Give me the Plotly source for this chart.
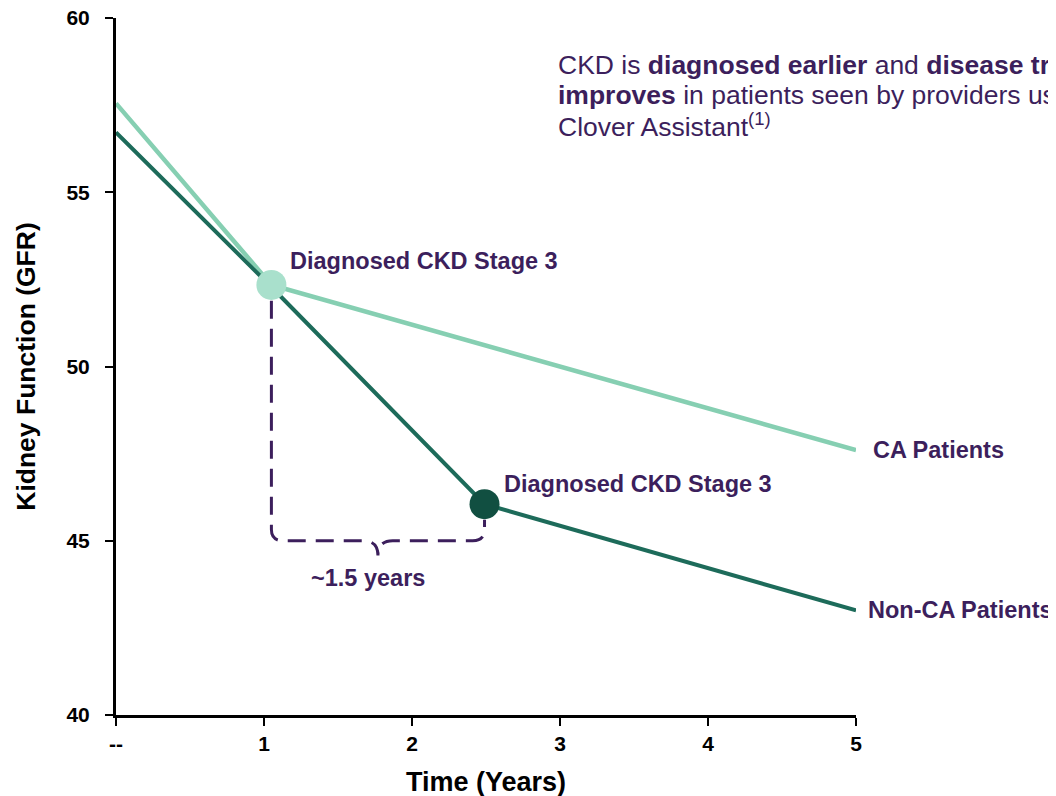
import plotly.graph_objects as go

# --- data ---
years_ca = [0, 1.05, 5]
gfr_ca = [57.55, 52.34, 47.6]

years_nonca = [0, 1.05, 2.49, 5]
gfr_nonca = [56.72, 52.28, 46.05, 43.0]

diag_x = [1.05, 2.49]          # CA diagnosis, Non-CA diagnosis
diag_y = [52.34, 46.05]
bracket_y = 45.0
gap_label = "~1.5 years"

x_range = [0, 5]
y_range = [40, 60]
x_ticks = [0, 1, 2, 3, 4, 5]
x_ticktext = ["--", "1", "2", "3", "4", "5"]
y_ticks = [40, 45, 50, 55, 60]

headline = [
    "CKD is <b>diagnosed earlier</b> and <b>disease trajectory</b>",
    "<b>improves</b> in patients seen by providers using",
    "Clover Assistant<sup>(1)</sup>",
]

PURPLE = "#3C1F5C"
MINT_LINE = "#86CFB2"
MINT_DOT = "#A9E0CC"
TEAL_LINE = "#1D6B5A"
TEAL_DOT = "#114F41"
FONT = "Liberation Sans, Arial, sans-serif"


def to_paper(v, rng):
    # annotations beyond the axis range get hidden, so place those in paper units
    return (v - rng[0]) / (rng[1] - rng[0])


fig = go.Figure()

fig.add_trace(go.Scatter(
    x=years_ca, y=gfr_ca, mode="lines",
    line=dict(color=MINT_LINE, width=4.5), showlegend=False, hoverinfo="skip",
))
fig.add_trace(go.Scatter(
    x=years_nonca, y=gfr_nonca, mode="lines",
    line=dict(color=TEAL_LINE, width=4), showlegend=False, hoverinfo="skip",
))
fig.add_trace(go.Scatter(
    x=diag_x, y=diag_y, mode="markers",
    marker=dict(size=30, color=[MINT_DOT, TEAL_DOT]),
    showlegend=False, hoverinfo="skip", cliponaxis=False,
))

# dashed bracket with a curly brace under it
x0, x1 = diag_x
bx = (x0 + x1) / 2
by = bracket_y
top0 = diag_y[0] - 0.45
top1 = diag_y[1] - 0.45
path = (
    f"M {x0},{top0} L {x0},{by + 0.32} "
    f"Q {x0},{by} {x0 + 0.08},{by} "
    f"L {bx - 0.1},{by} Q {bx},{by} {bx},{by - 0.42} "
    f"Q {bx},{by} {bx + 0.1},{by} "
    f"L {x1 - 0.08},{by} Q {x1},{by} {x1},{by + 0.32} "
    f"L {x1},{top1}"
)
fig.add_shape(type="path", path=path, xref="x", yref="y",
              line=dict(color=PURPLE, width=3, dash="18px,10px"))

lbl = dict(color=PURPLE, size=23.5, family=FONT, weight="bold")
fig.add_annotation(x=x0 + 0.11, y=diag_y[0] + 0.69, text="Diagnosed CKD Stage 3",
                   showarrow=False, xanchor="left", yanchor="middle", font=lbl)
fig.add_annotation(x=x1 + 0.12, y=diag_y[1] + 0.58, text="Diagnosed CKD Stage 3",
                   showarrow=False, xanchor="left", yanchor="middle", font=lbl)
fig.add_annotation(x=bx - 0.07, y=by - 1.07, text=gap_label,
                   showarrow=False, xanchor="center", yanchor="middle", font=lbl)
fig.add_annotation(xref="paper", yref="paper",
                   x=to_paper(years_ca[-1] + 0.1, x_range), y=to_paper(gfr_ca[-1], y_range),
                   text="CA Patients", showarrow=False, xanchor="left", yanchor="middle", font=lbl)
fig.add_annotation(xref="paper", yref="paper",
                   x=to_paper(years_nonca[-1] + 0.07, x_range), y=to_paper(gfr_nonca[-1], y_range),
                   text="Non-CA Patients", showarrow=False, xanchor="left", yanchor="middle", font=lbl)

for i, line in enumerate(headline):
    fig.add_annotation(
        x=2.97, y=58.66 - 0.86 * i, xanchor="left", yanchor="middle",
        align="left", showarrow=False, text=line,
        font=dict(color=PURPLE, size=26.5, family=FONT),
    )

axis_font = dict(color="black", size=21, family=FONT, weight="bold")

fig.update_layout(
    width=1056, height=796,
    paper_bgcolor="white", plot_bgcolor="white",
    margin=dict(l=108, r=208, t=10, b=89),
    xaxis=dict(
        range=x_range, tickvals=x_ticks, ticktext=x_ticktext,
        ticklabeloverflow="allow", automargin=False,
        showgrid=False, zeroline=False, showline=True, linecolor="black", linewidth=3,
        ticks="outside", ticklen=8, tickwidth=2, tickcolor="black", tickfont=axis_font,
        title=dict(text="Time (Years)", standoff=18,
                   font=dict(color="black", size=27, family=FONT, weight="bold")),
    ),
    yaxis=dict(
        range=y_range, tickvals=y_ticks, ticklabelstandoff=11,
        ticklabeloverflow="allow", automargin=False,
        showgrid=False, zeroline=False, showline=True, linecolor="black", linewidth=3,
        ticks="outside", ticklen=8, tickwidth=2, tickcolor="black", tickfont=axis_font,
        title=dict(text="Kidney Function (GFR)", standoff=24,
                   font=dict(color="black", size=26.5, family=FONT, weight="bold")),
    ),
)

fig.write_html("out.html")
